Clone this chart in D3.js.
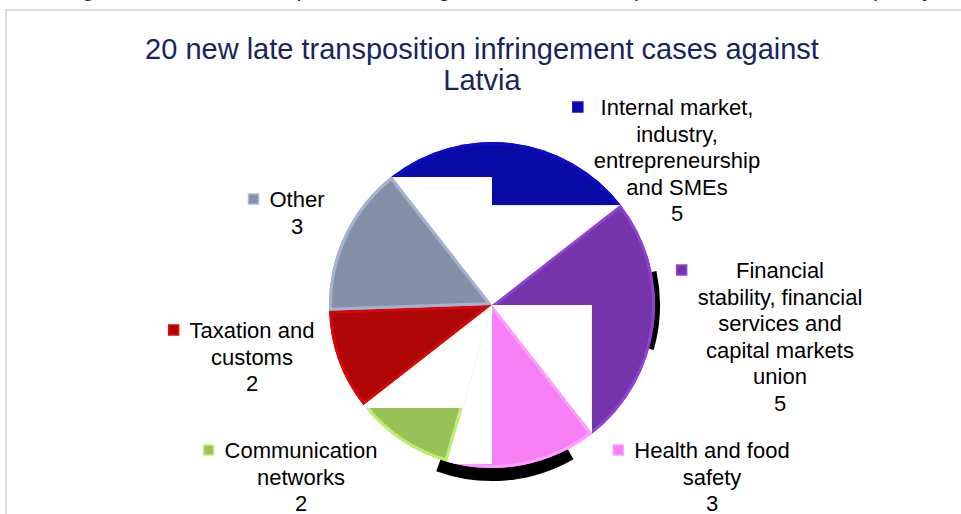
<!DOCTYPE html>
<html>
<head>
<meta charset="utf-8">
<script src="https://cdn.jsdelivr.net/npm/d3@7"></script>
<style>
  body { margin: 0; background: #ffffff; }
  svg { display: block; font-family: "Liberation Sans", Arial, sans-serif; }
</style>
</head>
<body>
<div class="chartContainer"></div>
<script>
// chart data
const titleLines = ["20 new late transposition infringement cases against", "Latvia"];
const categories = [
  "Internal market, industry, entrepreneurship and SMEs",
  "Financial stability, financial services and capital markets union",
  "Health and food safety",
  "Communication networks",
  "Taxation and customs",
  "Other"
];
const labelLines = [
  ["Internal market,", "industry,", "entrepreneurship", "and SMEs"],
  ["Financial", "stability, financial", "services and", "capital markets", "union"],
  ["Health and food", "safety"],
  ["Communication", "networks"],
  ["Taxation and", "customs"],
  ["Other"]
];
const values = [5, 5, 3, 2, 2, 3];
const sliceColors = ["#0a0aa6", "#7434aa", "#f77ff5", "#98c257", "#ae0606", "#8390a8"];

// where each label block sits (first baseline, centre of the block)
const labelPos = [
  { x: 677, y: 115 },
  { x: 780, y: 278 },
  { x: 712, y: 458 },
  { x: 301, y: 458 },
  { x: 252, y: 338 },
  { x: 297, y: 207 }
];

// white patches the original picture shows over some slices (in radius units)
const whitePatches = [
  { slice: 0, x0: -1.1, x1: 0, y0: -0.785, y1: 0 },
  { slice: 0, x0: 0, x1: 1.1, y0: -0.613, y1: 0 },
  { slice: 1, x0: 0, x1: 0.613, y0: 0, y1: 0.798 },
  { slice: 2, x0: -1.1, x1: 0, y0: 0, y1: 0.975 },
  { slice: 3, x0: -1.1, x1: 0, y0: 0, y1: 0.632 }
];

function drawChart() {
  const w = 961,
    h = 514,
    cx = 492,
    cy = 305,
    r = 163,
    deg = Math.PI / 180;

  const canvas = d3.select(".chartContainer")
    .append("svg")
    .attr("width", w)
    .attr("height", h);

  // text of the page above, cut off by the window
  canvas.append("text")
    .attr("x", 934)
    .attr("y", -4)
    .attr("text-anchor", "end")
    .attr("fill", "#17255f")
    .style("font-size", "24px")
    .text("Figure: New late transposition infringement cases \u2013 top areas of EU internal policy");

  // chart frame
  canvas.append("rect")
    .attr("x", 6)
    .attr("y", 10)
    .attr("width", w)
    .attr("height", h)
    .attr("fill", "none")
    .attr("stroke", "#d9d9d9")
    .attr("stroke-width", 2);

  canvas.selectAll("text.title")
    .data(titleLines)
    .enter()
    .append("text")
    .attr("class", "title")
    .attr("x", 482)
    .attr("y", function (d, i) { return 59 + i * 31; })
    .attr("text-anchor", "middle")
    .attr("fill", "#17255f")
    .style("font-size", "29px")
    .text(function (d) { return d; });

  const pie = d3.pie()
    .sort(null)
    .value(function (d) { return d; })
    .startAngle(-38 * deg)
    .endAngle(322 * deg);

  const arcs = pie(values);
  const arc = d3.arc().innerRadius(0).outerRadius(r);

  const g = canvas.append("g")
    .attr("transform", `translate(${cx},${cy})`);

  const defs = canvas.append("defs");
  defs.selectAll("clipPath")
    .data(arcs)
    .enter()
    .append("clipPath")
    .attr("id", function (d, i) { return "slice-" + i; })
    .append("path")
    .attr("d", arc);

  // black shadow bits under the pie
  g.append("path")
    .attr("d", d3.arc()({ innerRadius: 0, outerRadius: r, startAngle: 150 * deg, endAngle: 200 * deg }))
    .attr("transform", "translate(0,13)")
    .attr("fill", "#000");
  g.append("path")
    .attr("d", d3.arc()({ innerRadius: 0, outerRadius: r, startAngle: 78 * deg, endAngle: 106 * deg }))
    .attr("transform", "translate(5,0)")
    .attr("fill", "#000");

  g.selectAll("path.slice")
    .data(arcs)
    .enter()
    .append("path")
    .attr("class", "slice")
    .attr("d", arc)
    .attr("fill", function (d, i) { return sliceColors[i]; });

  // bevel band along the slice edges
  g.selectAll("path.bevel")
    .data(arcs)
    .enter()
    .append("path")
    .attr("class", "bevel")
    .attr("d", arc)
    .attr("fill", "none")
    .attr("stroke", function (d, i) { return d3.color(sliceColors[i]).brighter(0.6); })
    .attr("stroke-width", 6)
    .attr("stroke-linejoin", "round")
    .attr("clip-path", function (d, i) { return "url(#slice-" + i + ")"; });

  g.selectAll("rect.patch")
    .data(whitePatches)
    .enter()
    .append("rect")
    .attr("class", "patch")
    .attr("x", function (d) { return d.x0 * r; })
    .attr("y", function (d) { return d.y0 * r; })
    .attr("width", function (d) { return (d.x1 - d.x0) * r; })
    .attr("height", function (d) { return (d.y1 - d.y0) * r; })
    .attr("fill", "#fff")
    .attr("clip-path", function (d) { return "url(#slice-" + d.slice + ")"; });

  // labels with their coloured keys
  categories.forEach(function (cat, i) {
    const lines = labelLines[i].concat([String(values[i])]);
    const pos = labelPos[i];
    const lab = canvas.append("g").attr("class", "label");

    const texts = lab.selectAll("text")
      .data(lines)
      .enter()
      .append("text")
      .attr("x", pos.x)
      .attr("y", function (d, k) { return pos.y + k * 26.5; })
      .attr("text-anchor", "middle")
      .attr("fill", "#000")
      .style("font-size", "22px")
      .text(function (d) { return d; });

    let maxW = 0;
    texts.each(function () {
      maxW = Math.max(maxW, this.getComputedTextLength());
    });

    lab.append("rect")
      .attr("x", pos.x - maxW / 2 - 21)
      .attr("y", pos.y - 13)
      .attr("width", 10)
      .attr("height", 10)
      .attr("fill", sliceColors[i])
      .attr("stroke", d3.color(sliceColors[i]).brighter(0.7))
      .attr("stroke-width", 1.5);
  });
}

drawChart();
</script>
</body>
</html>
